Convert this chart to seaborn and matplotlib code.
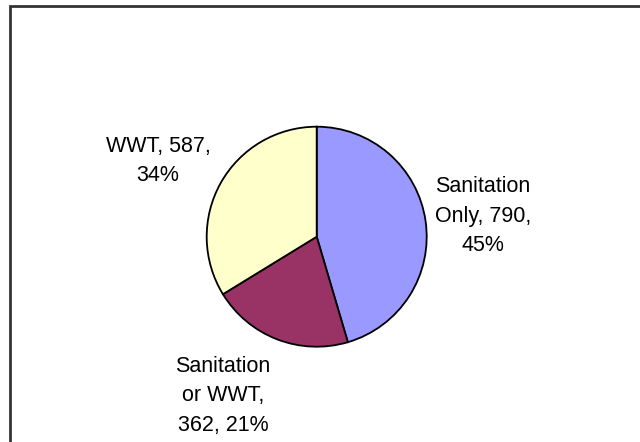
import matplotlib
matplotlib.use("Agg")
import matplotlib.pyplot as plt
from matplotlib.patches import Rectangle
import seaborn as sns

# Project counts by treatment type
categories = ["Sanitation Only", "Sanitation or WWT", "WWT"]
values = [790, 362, 587]
label_templates = [
    "Sanitation\nOnly, {v},\n{p}%",
    "Sanitation\nor WWT,\n{v}, {p}%",
    "WWT, {v},\n{p}%",
]
colors = ["#9999FF", "#993366", "#FFFFCC"]

sns.set_style("white")
plt.rcParams["font.family"] = ["Liberation Sans", "DejaVu Sans"]

W, H, DPI = 640, 442, 100
fig = plt.figure(figsize=(W / DPI, H / DPI), dpi=DPI)
fig.patch.set_facecolor("white")

# pie centre and radius in pixels
cx, cy, r = 316.7, 236.7, 110.0
ax = fig.add_axes([0, 0, 1, 1])

ax.pie(values, colors=colors, startangle=90, counterclock=False, radius=1.0,
       wedgeprops=dict(edgecolor="black", linewidth=1.3))

# one data unit = r pixels, after pie() has set its own limits
ax.set_xlim(-cx / r, (W - cx) / r)
ax.set_ylim((cy - H) / r, cy / r)
ax.set_aspect("equal")
ax.axis("off")

total = sum(values)
pcts = [round(100 * v / total) for v in values]

# label anchors (pixel centres)
label_pos = [(483, 216), (223, 396), (158, 161)]
for tmpl, v, p, (px, py) in zip(label_templates, values, pcts, label_pos):
    ax.text((px - cx) / r, (cy - py) / r, tmpl.format(v=v, p=p),
            ha="center", va="center", multialignment="center",
            fontsize=15.5, linespacing=1.52, color="black")

# chart-area frame
fig.patches.append(Rectangle((9.5 / W, -0.1), 1.2, 1 - 5.7 / H + 0.1,
                             transform=fig.transFigure, fill=False,
                             edgecolor="#333333", linewidth=2))

fig.savefig("out.png", dpi=DPI)
